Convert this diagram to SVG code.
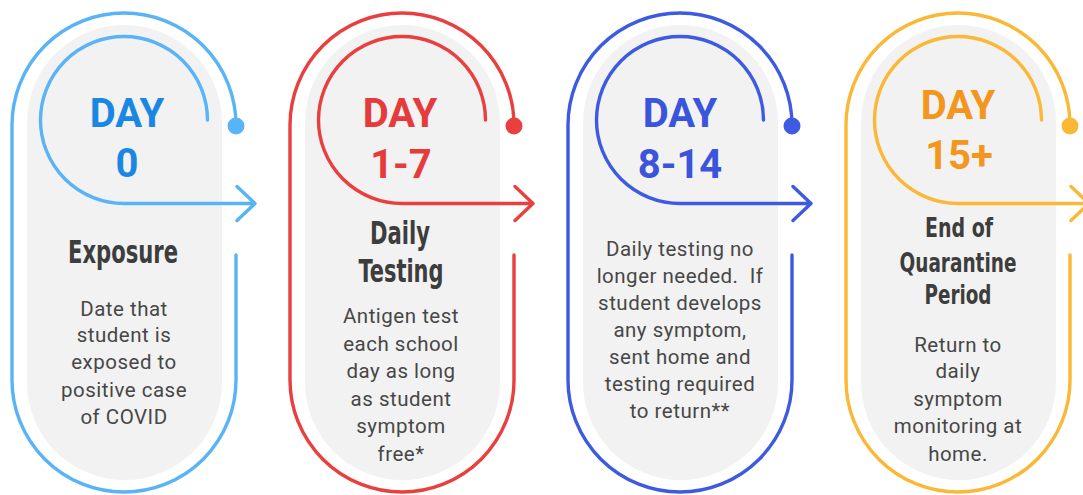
<svg xmlns="http://www.w3.org/2000/svg" width="1083" height="495" viewBox="0 0 1083 495">
<style>
.pill{fill:#f2f2f2}
.ln{fill:none;stroke-width:3.4;stroke-linecap:round;stroke-linejoin:round}
.day{font-family:Roboto,"Liberation Sans",sans-serif;font-weight:700;font-size:40px;text-anchor:middle}
.ttl{font-family:"Liberation Sans Narrow","DejaVu Sans Condensed",Roboto,sans-serif;font-weight:700;font-size:32px;fill:#3d3d3d;text-anchor:middle}
.ttl4{font-size:27px}
.body{font-family:Roboto,"Liberation Sans",sans-serif;font-size:20.5px;fill:#474747;text-anchor:middle;letter-spacing:0.5px}
.c1{stroke:#58b4f6}.f1{fill:#58b4f6}.t1{fill:#1a88e2}
.c2{stroke:#e93f3f}.f2{fill:#e93f3f}.t2{fill:#e53b3b}
.c3{stroke:#3d5ae0}.f3{fill:#3d5ae0}.t3{fill:#3a55dc}
.c4{stroke:#fbb736}.f4{fill:#fbb736}.t4{fill:#f2961d}
</style>
<g id="node-day0">
<rect class="pill" x="27" y="25" width="195" height="455" rx="97.5"/>
<path class="ln c1" d="M236,255 V380 A112,112 0 0 1 12,380 V125 A112,112 0 0 1 236,125"/>
<circle class="f1" cx="236" cy="126" r="8.5"/>
<text class="day t1" x="127" y="127">DAY</text>
<text class="day t1" x="127" y="177">0</text>
<text class="ttl" x="123" y="263" textLength="110" lengthAdjust="spacingAndGlyphs">Exposure</text>
<text class="body" x="124" y="316">Date that</text>
<text class="body" x="124" y="342">student is</text>
<text class="body" x="124" y="369">exposed to</text>
<text class="body" x="124" y="397">positive case</text>
<text class="body" x="124" y="424">of COVID</text>
</g>
<g id="node-day1-7">
<rect class="pill" x="305" y="25" width="195" height="455" rx="97.5"/>
<path class="ln c2" d="M514,255 V380 A112,112 0 0 1 290,380 V125 A112,112 0 0 1 514,125"/>
<circle class="f2" cx="514" cy="126" r="8.5"/>
<text class="day t2" x="400" y="127">DAY</text>
<text class="day t2" x="401" y="178">1-7</text>
<text class="ttl" x="400" y="244" textLength="60" lengthAdjust="spacingAndGlyphs">Daily</text>
<text class="ttl" x="401" y="282" textLength="85" lengthAdjust="spacingAndGlyphs">Testing</text>
<text class="body" x="401" y="323">Antigen test</text>
<text class="body" x="401" y="351">each school</text>
<text class="body" x="401" y="378">day as long</text>
<text class="body" x="401" y="406">as student</text>
<text class="body" x="401" y="433">symptom</text>
<text class="body" x="401" y="461">free*</text>
</g>
<g id="node-day8-14">
<rect class="pill" x="583" y="25" width="195" height="455" rx="97.5"/>
<path class="ln c3" d="M792,255 V380 A112,112 0 0 1 568,380 V125 A112,112 0 0 1 792,125"/>
<circle class="f3" cx="792" cy="126" r="8.5"/>
<text class="day t3" x="680" y="127">DAY</text>
<text class="day t3" x="680" y="178">8-14</text>
<text class="body" x="680" y="256">Daily testing no</text>
<text class="body" x="680" y="283" xml:space="preserve">longer needed.  If</text>
<text class="body" x="680" y="310">student develops</text>
<text class="body" x="680" y="337">any symptom,</text>
<text class="body" x="680" y="364">sent home and</text>
<text class="body" x="680" y="391">testing required</text>
<text class="body" x="680" y="418">to return**</text>
</g>
<g id="node-day15">
<rect class="pill" x="861" y="25" width="195" height="455" rx="97.5"/>
<path class="ln c4" d="M1070,255 V380 A112,112 0 0 1 846,380 V125 A112,112 0 0 1 1070,125"/>
<circle class="f4" cx="1070" cy="126" r="8.5"/>
<text class="day t4" x="958" y="119">DAY</text>
<text class="day t4" x="959" y="169">15+</text>
<text class="ttl ttl4" x="959" y="237" textLength="68" lengthAdjust="spacingAndGlyphs">End of</text>
<text class="ttl ttl4" x="958" y="272" textLength="117" lengthAdjust="spacingAndGlyphs">Quarantine</text>
<text class="ttl ttl4" x="958" y="304" textLength="67" lengthAdjust="spacingAndGlyphs">Period</text>
<text class="body" x="958" y="352">Return to</text>
<text class="body" x="958" y="378">daily</text>
<text class="body" x="958" y="406">symptom</text>
<text class="body" x="958" y="433">monitoring at</text>
<text class="body" x="958" y="461">home.</text>
</g>
<g id="connectors">
<path class="ln c1" d="M207.5,120 A83.5,83.5 0 1 0 124,203.5 H255 M237,186.5 L255,203.5 L237,220.5"/>
<path class="ln c2" d="M485.5,120 A83.5,83.5 0 1 0 402,203.5 H533 M515,186.5 L533,203.5 L515,220.5"/>
<path class="ln c3" d="M763.5,120 A83.5,83.5 0 1 0 680,203.5 H811 M793,186.5 L811,203.5 L793,220.5"/>
<path class="ln c4" d="M1041.5,120 A83.5,83.5 0 1 0 958,203.5 H1089 M1071,186.5 L1089,203.5 L1071,220.5"/>
</g>
</svg>
